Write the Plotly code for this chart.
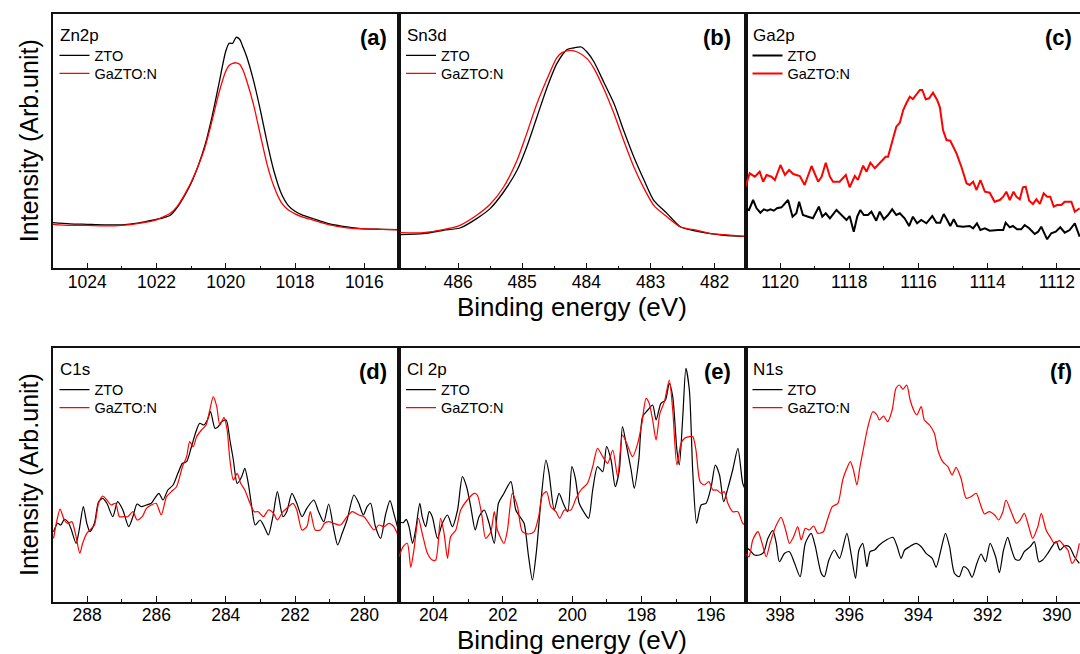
import plotly.graph_objects as go

# ---------------- data (binding energy eV, intensity arb. units) ----------------
# (a) Zn2p
zn_E = [1025.0, 1024.5, 1024.0, 1023.5, 1023.0, 1022.5, 1022.0, 1021.8, 1021.6, 1021.4, 1021.2, 1021.0,
        1020.8, 1020.6, 1020.4, 1020.2, 1020.0, 1019.9, 1019.8, 1019.7, 1019.6, 1019.5, 1019.4, 1019.2,
        1019.0, 1018.8, 1018.6, 1018.4, 1018.2, 1018.0, 1017.8, 1017.5, 1017.0, 1016.5, 1016.0, 1015.5, 1015.0]
zn_zto = [45.7, 44.5, 44.0, 43.5, 43.5, 45.5, 49.0, 50.5, 53.0, 61.0, 72.0, 85.0, 102.0, 123.0, 151.0, 184.0,
          217.0, 225.0, 225.0, 231.0, 229.0, 221.0, 212.0, 188.0, 158.0, 125.0, 96.0, 75.0, 63.0, 57.0, 53.5,
          50.0, 44.5, 41.5, 39.5, 39.0, 38.7]
zn_ga = [44.0, 43.0, 43.0, 42.5, 43.0, 45.0, 48.5, 51.5, 55.0, 62.0, 73.0, 86.0, 102.0, 121.0, 147.0, 175.0,
         197.0, 203.0, 205.0, 205.5, 204.0, 198.0, 188.0, 164.0, 133.0, 103.0, 81.0, 66.0, 58.5, 54.5, 51.5,
         48.5, 43.5, 40.5, 39.5, 39.0, 38.5]

# (b) Sn3d
sn_E_zto = [486.9, 486.54, 486.23, 485.97, 485.71, 485.5, 485.29, 485.08, 484.93, 484.77, 484.61, 484.46, 484.3,
            484.2, 484.08, 483.99, 483.88, 483.73, 483.57, 483.42, 483.26, 483.1, 482.95, 482.74, 482.53, 482.27,
            482.06, 481.85, 481.54]
sn_zto = [33.7, 34.7, 38.0, 40.3, 49.7, 59.7, 76.3, 98.0, 121.3, 151.3, 181.3, 204.7, 218.7, 220.3, 221.3, 216.3,
          206.3, 186.3, 164.7, 138.0, 111.3, 88.0, 68.0, 54.7, 41.3, 37.0, 34.7, 33.0, 32.0]
sn_E_ga = [486.9, 486.54, 486.23, 485.97, 485.71, 485.5, 485.29, 485.08, 484.93, 484.77, 484.61, 484.46, 484.38,
           484.25, 484.14, 483.99, 483.88, 483.73, 483.57, 483.42, 483.26, 483.1, 482.95, 482.74, 482.53, 482.27,
           482.06, 481.85, 481.54]
sn_ga = [35.7, 35.7, 38.7, 43.0, 53.0, 64.0, 81.3, 108.0, 134.7, 164.7, 189.7, 210.7, 215.7, 218.0, 216.3, 209.7,
         199.7, 179.7, 154.7, 128.0, 101.3, 79.7, 63.0, 51.3, 41.3, 38.0, 34.7, 33.7, 32.0]

# (c) Ga2p
ga_E_zto = [1121.0, 1120.9, 1120.78, 1120.68, 1120.57, 1120.47, 1120.37, 1120.28, 1120.18, 1120.09,
            1119.96, 1119.77, 1119.64, 1119.53, 1119.45, 1119.34, 1119.19, 1119.05, 1118.88, 1118.78,
            1118.68, 1118.56, 1118.37, 1118.23, 1118.08, 1117.99, 1117.87, 1117.77, 1117.68, 1117.58,
            1117.46, 1117.36, 1117.22, 1117.12, 1117.0, 1116.88, 1116.76, 1116.64, 1116.54, 1116.4,
            1116.27, 1116.16, 1116.04, 1115.92, 1115.77, 1115.6, 1115.48, 1115.37, 1115.27, 1115.17,
            1115.08, 1114.98, 1114.88, 1114.71, 1114.52, 1114.42, 1114.31, 1114.21, 1114.08, 1113.94,
            1113.82, 1113.7, 1113.55, 1113.48, 1113.36, 1113.27, 1113.15, 1113.03, 1112.93, 1112.8,
            1112.64, 1112.54, 1112.45, 1112.28, 1112.16, 1112.03, 1111.9, 1111.77, 1111.63, 1111.48, 1111.34]
ga_zto = [59, 58.3, 68.3, 60, 55.6, 59, 57.6, 59, 57.6, 60,
          61, 68.3, 51.6, 55, 66.6, 53.3, 51.6, 50, 61.6, 51.6,
          55, 50, 58.3, 53.3, 48.3, 52.3, 36.6, 51.6, 58.3, 53.3,
          53.3, 56.6, 47.6, 56.6, 49, 53.3, 59, 53.3, 55, 50,
          42.3, 51.6, 45, 48.3, 45, 52.3, 45.6, 45.6, 54.3, 48.3,
          42.3, 49, 42.3, 41.6, 42.3, 40, 45, 38.3, 40, 37.6,
          38.3, 38.3, 38.3, 45.6, 41, 42.3, 39, 39, 43.3, 40,
          34.3, 36.6, 41.6, 29, 35, 36.6, 41, 35.6, 38.3, 45, 31.6]
ga_E_ga = [1121.0, 1120.88, 1120.73, 1120.59, 1120.49, 1120.39, 1120.25, 1120.15, 1119.99, 1119.86,
           1119.74, 1119.62, 1119.43, 1119.29, 1119.09, 1118.9, 1118.8, 1118.68, 1118.56, 1118.47,
           1118.28, 1118.1, 1117.99, 1117.84, 1117.75, 1117.6, 1117.5, 1117.39, 1117.26, 1117.12,
           1116.95, 1116.88, 1116.73, 1116.64, 1116.54, 1116.44, 1116.35, 1116.25, 1116.16, 1116.06,
           1115.96, 1115.89, 1115.79, 1115.69, 1115.58, 1115.46, 1115.38, 1115.29, 1115.19, 1115.08,
           1114.9, 1114.76, 1114.61, 1114.52, 1114.42, 1114.32, 1114.21, 1114.08, 1113.94, 1113.8,
           1113.65, 1113.55, 1113.46, 1113.36, 1113.25, 1113.17, 1113.07, 1112.98, 1112.9, 1112.8,
           1112.69, 1112.59, 1112.49, 1112.38, 1112.28, 1112.19, 1112.09, 1111.99, 1111.87, 1111.77,
           1111.58, 1111.48, 1111.34]
ga_ga = [81.6, 95, 91.6, 96.6, 86.6, 93.3, 91.6, 88.3, 103.3, 93.3,
         98.3, 94.3, 92.3, 83.3, 102.3, 86.6, 91.6, 105.6, 91.6, 86.6,
         86.6, 93.3, 81, 92.3, 88.3, 102.6, 96.6, 105.6, 100, 105,
         111.6, 111.6, 131.6, 141.6, 145.6, 158.3, 165, 171.6, 169.3, 174.3,
         178.3, 178.3, 169, 170, 175.6, 168.3, 161, 138.3, 128.3, 127.6,
         115, 101.6, 85, 83.3, 86.6, 78.3, 88.3, 76.6, 75.6, 66.6,
         68.3, 71.6, 76.6, 68.3, 76.6, 71.6, 69, 81, 81.6, 67.6,
         64.3, 69, 64.3, 75, 71.6, 71.6, 61.6, 63.3, 63.3, 66.6,
         66.6, 56.6, 60]

# (d) C1s
c_E_zto = [288.97, 288.85, 288.76, 288.66, 288.56, 288.47, 288.32, 288.23, 288.11, 288.01,
           287.92, 287.79, 287.67, 287.55, 287.43, 287.26, 287.12, 286.97, 286.8, 286.68,
           286.56, 286.44, 286.29, 286.15, 286.05, 285.93, 285.81, 285.67, 285.52, 285.38,
           285.25, 285.13, 284.99, 284.86, 284.75, 284.63, 284.53, 284.44, 284.31, 284.22,
           284.12, 283.99, 283.88, 283.78, 283.67, 283.54, 283.45, 283.35, 283.25, 283.15,
           283.01, 282.89, 282.77, 282.64, 282.51, 282.35, 282.24, 282.09, 281.95, 281.8,
           281.66, 281.46, 281.32, 281.17, 281.03, 280.88, 280.77, 280.64, 280.5, 280.3,
           280.16, 280.03, 279.92, 279.82, 279.68, 279.53, 279.39, 279.26, 279.15, 278.98]
c_zto = [70, 78.4, 76.7, 82.4, 80, 73.4, 58.4, 71.7, 95, 78.4,
         70, 78.4, 100, 103.4, 98.4, 85, 100, 91.7, 75, 85,
         97.7, 95, 96.7, 98.4, 103.4, 108.4, 101.7, 111.7, 116.7, 128.4,
         138.4, 140, 155, 170, 178.4, 176.7, 181.7, 190, 173.4, 175,
         180, 181.7, 161.7, 141.7, 118.4, 125, 133.4, 118.4, 95, 76.7,
         81.7, 75, 66.7, 85, 110, 85, 90, 108.4, 98.4, 85,
         93.4, 101.7, 90, 80, 97.7, 71.7, 56.7, 68.4, 81.7, 106.7,
         98.4, 86.7, 95, 98.4, 75, 63.4, 86.7, 101, 88.4, 66.7]
c_E_ga = [288.97, 288.87, 288.78, 288.66, 288.56, 288.44, 288.34, 288.21, 288.13, 288.01,
          287.92, 287.79, 287.67, 287.55, 287.43, 287.31, 287.18, 287.07, 286.95, 286.83,
          286.68, 286.56, 286.41, 286.29, 286.15, 286.01, 285.86, 285.71, 285.57, 285.42,
          285.25, 285.13, 285.04, 284.94, 284.84, 284.7, 284.57, 284.46, 284.36, 284.26,
          284.17, 284.05, 283.96, 283.88, 283.78, 283.67, 283.57, 283.45, 283.3, 283.18,
          283.06, 282.91, 282.77, 282.62, 282.51, 282.35, 282.24, 282.06, 281.95, 281.8,
          281.66, 281.56, 281.42, 281.27, 281.15, 281.03, 280.88, 280.69, 280.5, 280.35,
          280.16, 280.01, 279.87, 279.72, 279.58, 279.43, 279.29, 279.15, 278.98]
c_ga = [63.4, 81.7, 92.7, 81.7, 78.4, 80, 68.4, 48.4, 58.4, 68.4,
        71.7, 76.7, 98.4, 105.7, 101.7, 96.7, 98.4, 85, 85, 85,
        90, 81.7, 85, 93.4, 96.7, 98.4, 86.7, 105, 110, 115,
        135, 145, 160, 155, 165, 171.7, 176.7, 191.7, 205, 195,
        176.7, 184.4, 171.7, 141.7, 121.7, 128.4, 118.4, 111.7, 98.4, 90,
        90, 85, 91.7, 88.4, 81.7, 90, 93.4, 98.4, 91.7, 71.7,
        75, 90, 71.7, 71.7, 78.4, 80, 78.4, 76.7, 85, 90,
        86.7, 85, 78.4, 71.7, 76.7, 75, 78.4, 75, 61.7]

# (e) Cl 2p
cl_E_zto = [205.0, 204.88, 204.79, 204.71, 204.61, 204.52, 204.4, 204.33, 204.23, 204.13,
            204.04, 203.89, 203.75, 203.6, 203.46, 203.31, 203.17, 203.05, 202.93, 202.8,
            202.69, 202.54, 202.4, 202.25, 202.13, 201.97, 201.77, 201.63, 201.48, 201.39,
            201.26, 201.15, 201.03, 200.91, 200.76, 200.67, 200.52, 200.38, 200.26, 200.13,
            200.01, 199.91, 199.8, 199.67, 199.53, 199.41, 199.27, 199.12, 199.01, 198.88,
            198.76, 198.64, 198.55, 198.43, 198.3, 198.21, 198.08, 197.97, 197.82, 197.68,
            197.58, 197.44, 197.31, 197.2, 197.1, 196.98, 196.91, 196.81, 196.72, 196.62,
            196.52, 196.41, 196.28, 196.14, 195.99, 195.87, 195.75, 195.63, 195.51, 195.37,
            195.22, 195.08, 195.0]
cl_zto = [80, 79, 82.4, 75, 58.4, 71.7, 98.4, 85, 75, 90,
          85, 63.4, 78.4, 86.7, 75, 91.7, 125, 115, 95, 71.7,
          85, 91.7, 78.4, 58.4, 98.4, 108.4, 120, 91.7, 83.4, 78.4,
          45, 21.7, 51.7, 98.4, 141.7, 128.4, 91.7, 108.4, 98.4, 90,
          135, 123.4, 98.4, 90, 83.4, 111.7, 135, 130, 155, 141.7,
          115, 131.7, 175, 155, 131.7, 113.4, 141.7, 185, 191.7, 196.7,
          181.7, 198.4, 201.7, 218.4, 205, 151.7, 136.7, 185, 233.4, 211.7,
          128.4, 78.4, 96.7, 98.4, 115, 136.7, 126.7, 100, 113.4, 131.7,
          153.4, 118.4, 111.7]
cl_E_ga = [205.0, 204.88, 204.76, 204.66, 204.57, 204.44, 204.33, 204.18, 204.04, 203.94,
           203.8, 203.7, 203.6, 203.51, 203.36, 203.22, 203.03, 202.83, 202.74, 202.61,
           202.5, 202.35, 202.25, 202.16, 201.97, 201.87, 201.73, 201.58, 201.44, 201.25,
           201.1, 200.97, 200.86, 200.74, 200.62, 200.47, 200.36, 200.23, 200.04, 199.89,
           199.75, 199.56, 199.41, 199.27, 199.12, 198.98, 198.83, 198.69, 198.55, 198.43,
           198.26, 198.11, 197.99, 197.87, 197.78, 197.68, 197.58, 197.47, 197.34, 197.2,
           197.1, 196.98, 196.86, 196.76, 196.62, 196.52, 196.43, 196.31, 196.19, 196.06,
           195.94, 195.83, 195.7, 195.61, 195.51, 195.37, 195.22, 195.08, 195.0]
cl_ga = [45, 55, 58.4, 34.4, 51.7, 83.4, 68.4, 48.4, 41.7, 41.7,
         83.4, 68.4, 43.4, 65, 71.7, 91.7, 101.7, 108.4, 106.7, 86.7,
         63.4, 70, 90, 71.7, 58.4, 71.7, 108.4, 95, 70, 67.7,
         70, 85, 106.7, 110, 95, 90, 83.4, 91.7, 91.7, 103.4,
         111.7, 118.4, 135, 153.4, 145, 138.4, 151.7, 125, 166.7, 158.4,
         145, 158.4, 178.4, 203.4, 198.4, 181.7, 161.7, 188.4, 200, 221.7,
         191.7, 136.7, 158.4, 163.4, 165, 165, 151.7, 120, 116.7, 120,
         111.7, 111.7, 108.4, 110, 98.4, 90, 90, 78.4, 76.7]

# (f) N1s
n_E_zto = [399.0, 398.88, 398.74, 398.6, 398.48, 398.35, 398.21, 398.11, 398.02, 397.87,
           397.73, 397.58, 397.42, 397.27, 397.1, 396.98, 396.81, 396.72, 396.59, 396.43,
           396.28, 396.07, 395.95, 395.82, 395.72, 395.61, 395.49, 395.4, 395.27, 395.13,
           394.93, 394.74, 394.63, 394.5, 394.4, 394.26, 394.07, 393.92, 393.78, 393.6,
           393.49, 393.34, 393.22, 393.1, 392.96, 392.82, 392.7, 392.57, 392.45, 392.31,
           392.19, 392.06, 391.93, 391.77, 391.66, 391.54, 391.42, 391.32, 391.2, 391.08,
           390.94, 390.77, 390.65, 390.52, 390.41, 390.26, 390.14, 390.02, 389.91, 389.78,
           389.64, 389.49, 389.35]
n_zto = [55, 51.7, 46.7, 46.7, 49, 63.4, 71, 58.4, 40, 48.4,
         50, 38.4, 25, 58.4, 68.4, 55, 28.4, 25, 41.7, 51.7,
         43.4, 68.4, 48.4, 23.4, 51.7, 58.4, 35, 50, 51.7, 56.7,
         61.7, 64.4, 56.7, 43.4, 51.7, 55, 58.4, 55, 48.4, 43.4,
         34.4, 53.4, 68.4, 55, 28.4, 25, 35, 32.4, 24.4, 38.4,
         47.7, 40, 58.4, 45, 29, 51.7, 64.4, 53.4, 42.4, 41.7,
         50, 55, 60, 40, 41.7, 48.4, 55, 60, 51.7, 55.7,
         55, 45, 38.4]
n_E_ga = [399.0, 398.9, 398.79, 398.64, 398.52, 398.4, 398.29, 398.13, 397.97, 397.84,
          397.73, 397.61, 397.49, 397.39, 397.27, 397.15, 397.03, 396.91, 396.75, 396.65,
          396.49, 396.33, 396.19, 396.07, 395.97, 395.88, 395.78, 395.69, 395.56, 395.46,
          395.32, 395.2, 395.13, 395.01, 394.89, 394.76, 394.65, 394.55, 394.45, 394.34,
          394.24, 394.14, 394.05, 393.92, 393.83, 393.68, 393.54, 393.44, 393.3, 393.15,
          393.03, 392.91, 392.77, 392.62, 392.48, 392.33, 392.22, 392.09, 391.95, 391.8,
          391.68, 391.56, 391.47, 391.32, 391.17, 391.06, 390.94, 390.81, 390.7, 390.55,
          390.45, 390.31, 390.17, 390.07, 389.92, 389.81, 389.68, 389.56, 389.44, 389.35]
n_ga = [48.4, 45, 61.7, 70, 58.4, 45, 58.4, 75, 84.4, 71.7,
        58.4, 65, 75, 61.7, 73.4, 71.7, 75.7, 68.4, 70, 80,
        95, 98.4, 121.7, 133.4, 140, 131.7, 116.7, 135, 158.4, 175,
        190, 186.7, 181.7, 185.7, 180, 191.7, 213.4, 216.7, 212.4, 216.7,
        201.7, 191.7, 186.7, 195, 181.7, 176.7, 168.4, 151.7, 140, 135,
        126.7, 134.4, 123.4, 103.4, 105, 108.4, 98.4, 87.7, 90, 86.7,
        81.7, 90, 101.7, 90, 78.4, 81.7, 88.4, 75, 63.4, 75,
        88.4, 71.7, 63.4, 58.4, 61, 56.7, 51.7, 38.4, 45, 58.4]

series_names = ["ZTO", "GaZTO:N"]
panel_titles = ["Zn2p", "Sn3d", "Ga2p", "C1s", "Cl 2p", "N1s"]
panel_tags = ["(a)", "(b)", "(c)", "(d)", "(e)", "(f)"]
x_title = "Binding energy (eV)"
y_title = "Intensity (Arb.unit)"

# ---------------- layout geometry ----------------
W, H = 1080, 654
FONT = "Liberation Sans, Arial, Helvetica, sans-serif"
BLACK, RED = "#000000", "#ff0000"

cols_px = [(52.5, 399.0), (399.0, 745.5), (745.5, 1080.0)]
rows_px = [(14.0, 268.3), (348.3, 601.7)]
x_ranges = [[1025, 1015], [486.92, 481.52], [1121, 1111.33],
            [289, 279], [205, 195], [399, 389.33]]
dticks = [2, 1, 2, 2, 2, 2]
y_ranges = [[0, 254.3], [0, 253.4]]

panels = [
    (zn_E, zn_zto, zn_E, zn_ga, 1.3, "spline"),
    (sn_E_zto, sn_zto, sn_E_ga, sn_ga, 1.3, "spline"),
    (ga_E_zto, ga_zto, ga_E_ga, ga_ga, 2.0, "linear"),
    (c_E_zto, c_zto, c_E_ga, c_ga, 1.2, "spline"),
    (cl_E_zto, cl_zto, cl_E_ga, cl_ga, 1.2, "spline"),
    (n_E_zto, n_zto, n_E_ga, n_ga, 1.2, "spline"),
]

fig = go.Figure()
layout = dict(width=W, height=H, margin=dict(l=0, r=0, t=0, b=0),
              paper_bgcolor="white", plot_bgcolor="white",
              font=dict(family=FONT, color="black"), showlegend=True)
annotations = []

for i, (ex0, ey0, ex1, ey1, lw, shape) in enumerate(panels):
    r, c = divmod(i, 3)
    idx = "" if i == 0 else str(i + 1)
    xa, ya = "x" + idx, "y" + idx
    x0, x1 = cols_px[c]
    y0, y1 = rows_px[r]
    item_offsets = [41.5, 59.5]
    for k, (ex, ey, color, name) in enumerate([(ex0, ey0, BLACK, series_names[0]),
                                                (ex1, ey1, RED, series_names[1])]):
        n = 2 * i + k + 1
        leg = "legend" if n == 1 else "legend" + str(n)
        fig.add_trace(go.Scatter(x=ex, y=ey, mode="lines", name=name, xaxis=xa, yaxis=ya, legend=leg,
                                 line=dict(color=color, width=lw, shape=shape, smoothing=0.7),
                                 hoverinfo="skip"))
        layout[leg] = dict(
            x=(x0 + 2) / W, y=1 - (y0 + item_offsets[k]) / H, xanchor="left", yanchor="middle",
            bgcolor="rgba(0,0,0,0)", borderwidth=0, itemwidth=30,
            font=dict(size=14.5, family=FONT, color="black"),
            itemclick=False, itemdoubleclick=False,
        )
    layout["xaxis" + idx] = dict(
        domain=[x0 / W, x1 / W], anchor=ya, range=x_ranges[i], autorange=False,
        showline=True, linecolor="#111", linewidth=1.5, mirror=True,
        ticks="inside", ticklen=6, tickwidth=1.2, tickcolor="#111",
        dtick=dticks[i], tick0=0, showgrid=False, zeroline=False,
        ticklabelstandoff=-3,
        tickfont=dict(size=17.5, family=FONT, color="black"),
        minor=dict(ticks="inside", ticklen=3, tickwidth=1.0, tickcolor="#111",
                   dtick=dticks[i] / 2, showgrid=False),
    )
    layout["yaxis" + idx] = dict(
        domain=[1 - y1 / H, 1 - y0 / H], anchor=xa, range=y_ranges[r], autorange=False,
        showline=True, linecolor="#111", linewidth=1.5, mirror=(c < 2),
        showticklabels=False, ticks="", showgrid=False, zeroline=False,
    )
    # element name
    annotations.append(dict(text=panel_titles[i], xref="paper", yref="paper",
                            x=(x0 + 5.5) / W, y=1 - (y0 + 21.5) / H, xanchor="left", yanchor="middle",
                            showarrow=False, font=dict(size=17, family=FONT, color="black")))
    # panel tag
    tag_right = [389, 733, 1074][c]
    annotations.append(dict(text="<b>" + panel_tags[i] + "</b>", xref="paper", yref="paper",
                            x=tag_right / W, y=1 - (y0 + 23.5) / H, xanchor="right", yanchor="middle",
                            showarrow=False, font=dict(size=22, family=FONT, color="black")))

title_offsets = [39, 38]
for r, (y0, y1) in enumerate(rows_px):
    annotations.append(dict(text=y_title, xref="paper", yref="paper", x=29 / W, y=1 - (y0 + y1) / 2 / H,
                            xanchor="center", yanchor="middle", textangle=-90, showarrow=False,
                            font=dict(size=25, family=FONT, color="black")))
    annotations.append(dict(text=x_title, xref="paper", yref="paper", x=572 / W,
                            y=1 - (y1 + title_offsets[r]) / H,
                            xanchor="center", yanchor="middle", showarrow=False,
                            font=dict(size=26, family=FONT, color="black")))

layout["annotations"] = annotations
fig.update_layout(**layout)
fig.write_html("out.html")
